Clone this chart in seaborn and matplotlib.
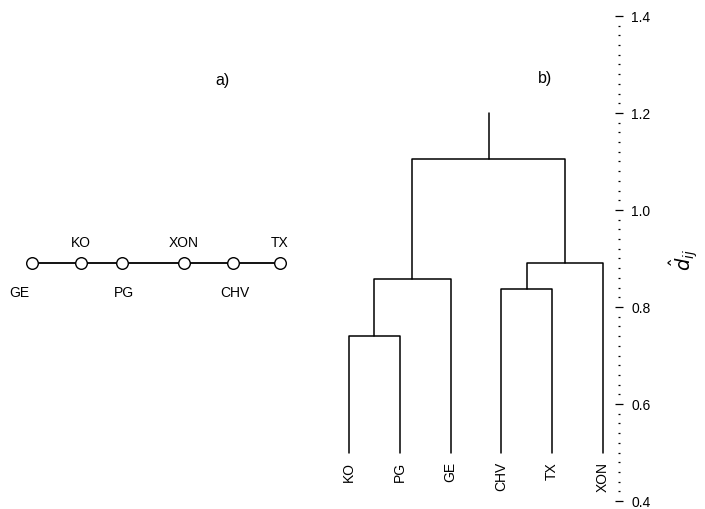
import numpy as np
import pandas as pd
import matplotlib
matplotlib.use("Agg")
import matplotlib.pyplot as plt
from matplotlib.ticker import MultipleLocator, AutoMinorLocator
import seaborn as sns

# panel a: chain of nodes (minimum spanning tree), position along the line
chain_names = ['GE', 'KO', 'PG', 'XON', 'CHV', 'TX']
chain_pos = [32, 81, 122, 184, 233, 280]
chain_side = ['below', 'above', 'below', 'above', 'below', 'above']

# panel b: dendrogram leaves and merges (child, child, height)
leaves = ['KO', 'PG', 'GE', 'CHV', 'TX', 'XON']
merge_left = [0, 3, 6, 7, 8]
merge_right = [1, 4, 2, 5, 9]
merge_height = [0.74, 0.838, 0.857, 0.89, 1.105]
root_top = 1.2
leaf_bottom = 0.5

sns.set_style("white")
plt.rcParams['font.family'] = ['Liberation Sans', 'DejaVu Sans']
plt.rcParams['text.color'] = 'black'
plt.rcParams['axes.labelcolor'] = 'black'
plt.rcParams['ytick.color'] = 'black'

fig = plt.figure(figsize=(7.05, 5.1), dpi=100)

# ---- panel a
ax_a = fig.add_axes([0, 0, 330 / 705, 1])
ax_a.set_xlim(0, 330)
ax_a.set_ylim(510, 0)
ax_a.axis('off')
df_a = pd.DataFrame({'x': chain_pos, 'y': [264] * len(chain_pos)})
sns.lineplot(data=df_a, x='x', y='y', ax=ax_a, color='black', lw=1.3,
             sort=False, legend=False)
sns.scatterplot(data=df_a, x='x', y='y', ax=ax_a, s=70, color='white',
                edgecolor='black', linewidth=1.0, zorder=3, legend=False)
for name, x, side in zip(chain_names, chain_pos, chain_side):
    if side == 'above':
        ax_a.text(x, 243, name, ha='center', va='center', fontsize=10)
    else:
        dx = -13 if name == 'GE' else 2
        ax_a.text(x + dx, 293, name, ha='center', va='center', fontsize=10)
ax_a.text(222, 80, 'a)', ha='center', va='center', fontsize=11.5)
ax_a.set_xlabel('')
ax_a.set_ylabel('')

# ---- panel b
ax = fig.add_axes([330 / 705, 1 - 502 / 510, (619 - 330) / 705, (502 - 17) / 510])
ax.set_xlim(-0.374, 5.315)
ax.set_ylim(0.4, 1.4)

node_x = {i: float(i) for i in range(len(leaves))}
node_h = {i: leaf_bottom for i in range(len(leaves))}
for k, (a, b, h) in enumerate(zip(merge_left, merge_right, merge_height)):
    nid = len(leaves) + k
    xa, xb = node_x[a], node_x[b]
    ax.plot([xa, xa, xb, xb], [node_h[a], h, h, node_h[b]], color='black', lw=1.1)
    node_x[nid] = (xa + xb) / 2
    node_h[nid] = h
root = len(leaves) + len(merge_height) - 1
ax.plot([node_x[root]] * 2, [node_h[root], root_top], color='black', lw=1.1)

for i, name in enumerate(leaves):
    ax.text(i, 0.482, name, rotation=90, ha='center', va='top', fontsize=10)

ax.text(3.86, 1.274, 'b)', ha='center', va='center', fontsize=11.5)

for sp in ax.spines.values():
    sp.set_visible(False)
ax.set_xticks([])
ax.yaxis.tick_right()
ax.yaxis.set_label_position('right')
ax.yaxis.set_major_locator(MultipleLocator(0.2))
ax.yaxis.set_minor_locator(AutoMinorLocator(10))
ax.tick_params(axis='y', which='major', direction='inout', length=6, width=0.9,
               labelsize=10, pad=6, colors='black')
ax.tick_params(axis='y', which='minor', direction='inout', length=1.5, width=0.9,
               colors='black', right=True)
ax.yaxis.set_major_formatter(matplotlib.ticker.FormatStrFormatter('%.1f'))
ax.set_ylabel(r'$\hat{d}_{ij}$', fontsize=14, labelpad=12)

fig.savefig('out.png', dpi=100)
